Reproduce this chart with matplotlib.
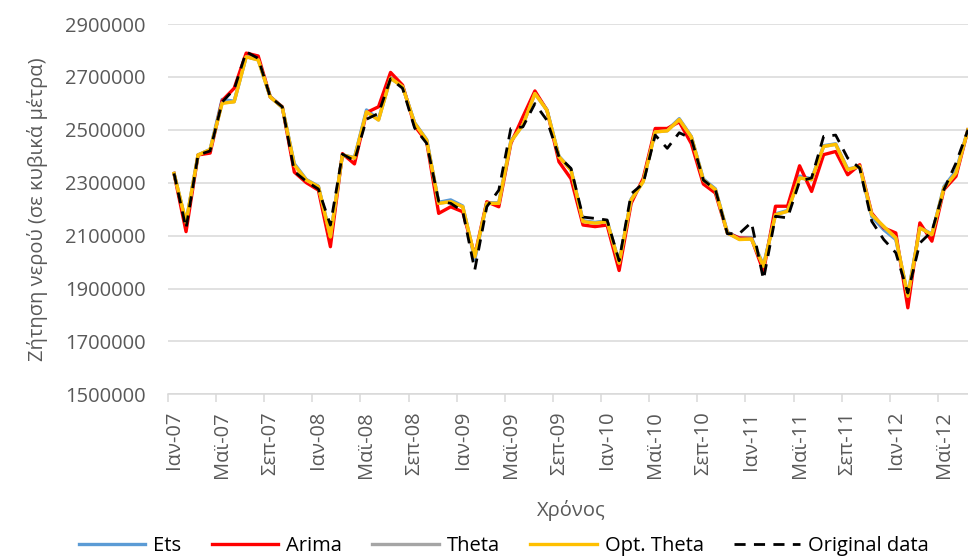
import matplotlib.pyplot as plt
import numpy as np
from matplotlib.ticker import StrMethodFormatter

# Μηνιαία ζήτηση νερού, Ιαν-07 έως Ιουλ-12 (σε χιλιάδες κυβικά μέτρα)
months = ['Ιαν', 'Φεβ', 'Μαρ', 'Απρ', 'Μαϊ', 'Ιουν', 'Ιουλ', 'Αυγ', 'Σεπ', 'Οκτ', 'Νοε', 'Δεκ']
years = ['07', '08', '09', '10', '11', '12']

original = [2335, 2127, 2405, 2420, 2605, 2653, 2795, 2770, 2624, 2587, 2342, 2305,
            2276, 2140, 2408, 2383, 2540, 2562, 2693, 2657, 2507, 2449, 2230, 2222,
            2192, 1970, 2209, 2272, 2505, 2511, 2599, 2536, 2398, 2354, 2170, 2165,
            2159, 2005, 2258, 2297, 2480, 2430, 2489, 2467, 2310, 2274, 2107, 2108,
            2150, 1934, 2173, 2167, 2305, 2318, 2475, 2480, 2393, 2355, 2154, 2085,
            2035, 1883, 2072, 2116, 2274, 2374, 2500]

arima = [2335, 2115, 2405, 2412, 2610, 2657, 2790, 2779, 2624, 2587, 2340, 2300,
         2272, 2058, 2410, 2371, 2565, 2587, 2717, 2669, 2515, 2455, 2184, 2209,
         2190, 2025, 2228, 2209, 2448, 2549, 2647, 2574, 2379, 2315, 2140, 2134,
         2140, 1968, 2222, 2316, 2505, 2505, 2530, 2448, 2295, 2261, 2110, 2091,
         2089, 1965, 2211, 2211, 2364, 2267, 2406, 2418, 2330, 2368, 2185, 2129,
         2110, 1827, 2148, 2079, 2274, 2324, 2500]

ets = [2335, 2148, 2405, 2425, 2615, 2608, 2778, 2766, 2626, 2585, 2372, 2312,
       2287, 2098, 2405, 2395, 2575, 2540, 2697, 2664, 2527, 2463, 2226, 2235,
       2212, 2010, 2224, 2224, 2458, 2520, 2639, 2576, 2400, 2350, 2156, 2150,
       2156, 1998, 2238, 2306, 2494, 2499, 2542, 2475, 2314, 2277, 2113, 2090,
       2092, 1988, 2182, 2195, 2325, 2315, 2440, 2447, 2352, 2360, 2172, 2122,
       2085, 1875, 2131, 2106, 2285, 2345, 2500]

theta = [2335, 2150, 2405, 2425, 2602, 2606, 2776, 2764, 2624, 2585, 2368, 2310,
         2285, 2096, 2405, 2393, 2569, 2537, 2695, 2663, 2525, 2461, 2222, 2229,
         2209, 2018, 2222, 2222, 2455, 2518, 2637, 2574, 2398, 2348, 2153, 2147,
         2153, 1996, 2235, 2304, 2492, 2496, 2539, 2473, 2310, 2274, 2110, 2086,
         2087, 1984, 2179, 2192, 2318, 2311, 2437, 2445, 2349, 2362, 2179, 2133,
         2091, 1871, 2129, 2104, 2280, 2337, 2500]

opt_theta = [2335, 2150, 2405, 2425, 2600, 2606, 2776, 2764, 2624, 2585, 2367, 2310,
             2285, 2095, 2405, 2393, 2568, 2537, 2695, 2663, 2525, 2461, 2222, 2228,
             2209, 2020, 2222, 2222, 2455, 2518, 2637, 2574, 2398, 2348, 2153, 2147,
             2153, 1996, 2235, 2304, 2492, 2496, 2539, 2473, 2310, 2274, 2110, 2085,
             2087, 1984, 2179, 2192, 2318, 2311, 2437, 2445, 2349, 2362, 2179, 2135,
             2091, 1871, 2129, 2104, 2280, 2336, 2500]

labels = [m + '-' + y for y in years for m in months][:len(original)]

plt.rcParams['font.family'] = ['Open Sans', 'DejaVu Sans']
fs = 14.5
grey = '#595959'

fig = plt.figure(figsize=(9.68, 5.59), dpi=100)
ax = fig.add_axes([168 / 968, 1 - 394.3 / 559, 806 / 968, (394.3 - 24) / 559])

x = np.arange(len(original))
k = 1000
ax.plot(x, np.array(ets) * k, color='#5B9BD5', lw=2.4, label='Ets')
ax.plot(x, np.array(arima) * k, color='#FF0000', lw=2.4, label='Arima')
ax.plot(x, np.array(theta) * k, color='#A5A5A5', lw=2.4, label='Theta')
ax.plot(x, np.array(opt_theta) * k, color='#FFC000', lw=2.4, label='Opt. Theta')
ax.plot(x, np.array(original) * k, color='black', lw=2.0, dashes=(4, 3),
        label='Original data')

ax.set_xlim(-0.5, len(original) - 0.5)
ax.set_ylim(1500000, 2900000)
ax.set_yticks(np.arange(1500000, 2900001, 200000))
ax.yaxis.set_major_formatter(StrMethodFormatter('{x:.0f}'))
ax.grid(axis='y', color='#D9D9D9', lw=1.1)
ax.set_axisbelow(True)

ax.set_xticks(x[::4])
ax.set_xticklabels(labels[::4], rotation=90, va='top', ha='center')
ax.set_xticks(np.arange(-0.5, len(original), 4), minor=True)
ax.tick_params(axis='x', which='major', length=0, pad=12, labelsize=fs, labelcolor=grey)
ax.tick_params(axis='x', which='minor', length=6, color='#D9D9D9', width=1.1)
ax.tick_params(axis='y', length=0, pad=16, labelsize=fs, labelcolor=grey)

for s in ['top', 'right', 'left']:
    ax.spines[s].set_visible(False)
ax.spines['bottom'].set_color('#D9D9D9')
ax.spines['bottom'].set_linewidth(1.1)

ax.set_xlabel('Χρόνος', fontsize=fs, color=grey, labelpad=16)
ax.set_ylabel('Ζήτηση νερού (σε κυβικά μέτρα)', fontsize=fs, color=grey, labelpad=12)

fig.legend(loc='center', bbox_to_anchor=(504 / 968, 1 - 546 / 559), ncol=5,
           frameon=False, fontsize=fs, handlelength=3.3, handletextpad=0.4,
           columnspacing=1.5)

fig.savefig('out.png', dpi=100)
